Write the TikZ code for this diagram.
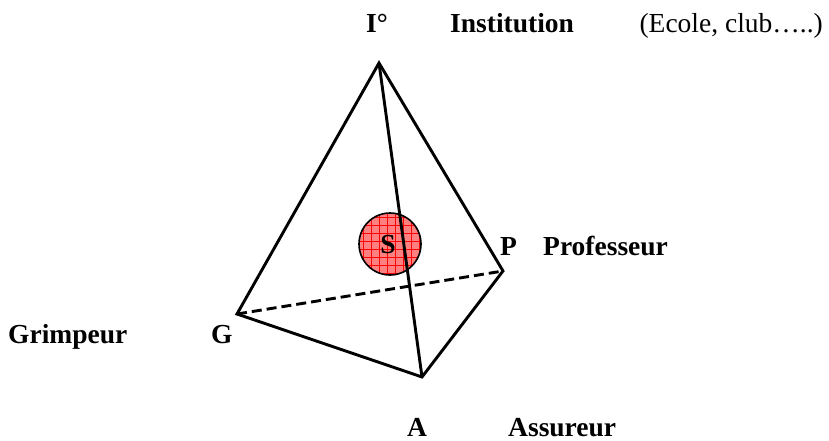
\documentclass[tikz,border=0pt]{standalone}
\usepackage{fontspec}
\setmainfont{Liberation Serif}

\begin{document}
\begin{tikzpicture}[
    x=1pt, y=-1pt,
    edge/.style={line width=2.9pt, line join=miter},
    hidden/.style={edge, dash pattern=on 10pt off 5pt},
    lbl/.style={font=\fontsize{27.5}{31}\selectfont\bfseries, inner sep=0pt, anchor=base west},
    note/.style={font=\fontsize{27.5}{31}\selectfont, inner sep=0pt, anchor=base east}
]
\useasboundingbox (0,0) rectangle (829,441);

% vertices of the tetrahedron
\coordinate (i) at (379,63);
\coordinate (p) at (503,271);
\coordinate (g) at (237,314);
\coordinate (a) at (422,377);

% knowledge at the centre
\fill[red!50] (390,244) circle (31);
\begin{scope}
  \clip (390,244) circle (31);
  \foreach \k in {0,8,...,72} {
    \draw[red, line width=0.6pt] (355+\k,208) -- (355+\k,282);
    \draw[red, line width=0.6pt] (354,209+\k) -- (428,209+\k);
  }
\end{scope}
\draw[line width=1.6pt] (390,244) circle (31);
\node[font=\fontsize{27.5}{31}\selectfont\bfseries, inner sep=0pt] (s) at (388,245) {S};

\draw[hidden] (g) -- (p);
\draw[edge] (i) -- (g) -- (a) -- (p) -- cycle;
\draw[edge] (i) -- (a);

% labels
\node[lbl] (ilbl) at (366,33) {I\textdegree};
\node[lbl] (inst) at (450,33) {Institution};
\node[note] (ecole) at (823,33) {(Ecole, club\dots..)};
\node[lbl] (plbl) at (500,255) {P};
\node[lbl] (prof) at (543,255) {Professeur};
\node[lbl] (glbl) at (211,343) {G};
\node[lbl] (grim) at (8,343) {Grimpeur};
\node[lbl] (albl) at (407,436) {A};
\node[lbl] (assu) at (508,436) {Assureur};
\end{tikzpicture}
\end{document}
